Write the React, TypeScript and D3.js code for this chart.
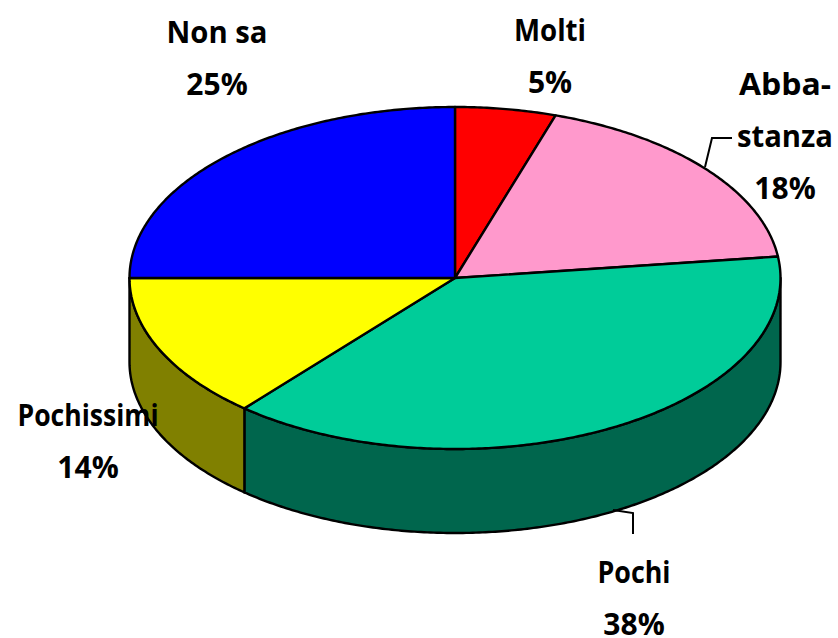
import React from "react";
import * as d3 from "d3";

const categories = ["Molti", "Abbastanza", "Pochi", "Pochissimi", "Non sa"];
const values = [5, 18, 38.2, 13.8, 25];
const topColors = ["#ff0000", "#ff99cc", "#00cc99", "#ffff00", "#0000ff"];
const sideColors = ["#800000", "#804d66", "#00664d", "#808000", "#000080"];
const labelLines = [["Molti", "5%"], ["Abba-", "stanza", "18%"], ["Pochi", "38%"], ["Pochissimi", "14%"], ["Non sa", "25%"]];
const labelX = [550, 785, 634, 88, 217];
const labelY = [41, 95, 583, 426, 43];

// measured ink widths of the word lines, to stand in for the reference's narrower hand-written face
const lineWidths: Record<string, number> = {
  "Molti": 72, "Abba-": 92, "stanza": 96, "Pochi": 73, "Pochissimi": 141, "Non sa": 101,
};

const W = 838, H = 638;
const cx = 455, cy = 278, rx = 325.5, ry = 171, depth = 84;
const font = "'Comic Sans MS','Open Sans','Noto Sans',sans-serif";

const px = (t: number) => cx + rx * Math.sin(t);
const py = (t: number) => cy - ry * Math.cos(t);

function arcPts(a0: number, a1: number, dy = 0): string {
  const n = Math.max(2, Math.ceil(Math.abs(a1 - a0) / 0.01));
  return d3.range(n + 1).map(i => {
    const t = a0 + (a1 - a0) * i / n;
    return `${px(t).toFixed(2)},${(py(t) + dy).toFixed(2)}`;
  }).join(" L");
}

export default function App() {
  const arcs = d3.pie<number>().sort(null)(values);
  const lw = 2.4;
  return (
    <svg width={W} height={H} style={{ position: "absolute", left: 0, top: 0 }}>
      {arcs.map((a, i) => {
        // the visible outer wall spans the lower half of the ellipse (PI/2 .. 3PI/2)
        const s = Math.max(a.startAngle, Math.PI / 2);
        const e = Math.min(a.endAngle, 1.5 * Math.PI);
        if (s >= e) return null;
        return (
          <path key={categories[i] + "-side"}
            d={`M${arcPts(s, e)} L${arcPts(e, s, depth)} Z`}
            fill={sideColors[i]} stroke="#000" strokeWidth={lw} strokeLinejoin="round" />
        );
      })}
      {arcs.map((a, i) => (
        <path key={categories[i]}
          d={`M${cx},${cy} L${arcPts(a.startAngle, a.endAngle)} Z`}
          fill={topColors[i]} stroke="#000" strokeWidth={lw} strokeLinejoin="round" />
      ))}
      <path d="M705,167 L712,138 L732,138" fill="none" stroke="#000" strokeWidth={2} />
      <path d="M613,510 L633,513 L633,534" fill="none" stroke="#000" strokeWidth={2} />
      {labelLines.map((lines, i) => (
        <text key={categories[i]} textAnchor="middle" fontFamily={font} fontWeight="bold" fontSize={30} fill="#000">
          {lines.map((l, j) => (
            <tspan key={j} x={labelX[i]} y={labelY[i] + j * 52}
              textLength={lineWidths[l]} lengthAdjust={lineWidths[l] ? "spacingAndGlyphs" : undefined}>{l}</tspan>
          ))}
        </text>
      ))}
    </svg>
  );
}
